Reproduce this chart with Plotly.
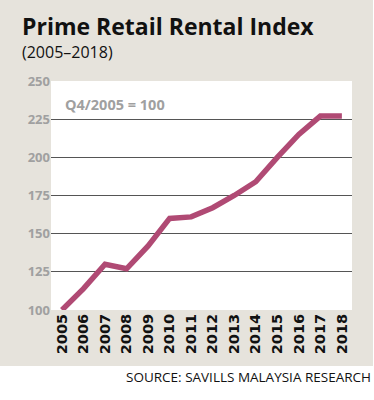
import plotly.graph_objects as go

years = list(range(2005, 2019))
index_values = [100, 114, 130, 127, 142, 160, 161, 167, 175, 184, 200, 215, 227, 227]
y_ticks = [100, 125, 150, 175, 200, 225, 250]

L, R, T, B = 51, 22, 81, 90
W, H = 374, 400
pw, ph = W - L - R, H - T - B

fig = go.Figure()
fig.add_trace(go.Scatter(x=years, y=index_values, mode="lines",
                         line=dict(color="#B04A74", width=5.5), hoverinfo="skip"))

fig.update_layout(
    width=W, height=H,
    margin=dict(l=L, r=R, t=T, b=B),
    paper_bgcolor="#E6E3DC",
    plot_bgcolor="#FFFFFF",
    showlegend=False,
    xaxis=dict(range=[2004.49, 2018.47], tickvals=years, ticktext=[str(y) for y in years],
               tickangle=-90, showgrid=False, zeroline=False, showline=False,
               tickfont=dict(family="DejaVu Sans", size=14.5, color="#111", weight=700),
               ticks="", fixedrange=True),
    yaxis=dict(range=[100, 250], tickvals=y_ticks, showgrid=True, gridcolor="#555555",
               gridwidth=1.3, zeroline=False, showline=False, ticks="",
               tickfont=dict(family="Open Sans", size=13, color="#A0A0A0", weight=700),
               fixedrange=True),
    shapes=[
        dict(type="rect", xref="paper", yref="paper",
             x0=-L / pw - 0.1, x1=(W + 5 - L) / pw, y0=-(H - T - ph + 40) / ph, y1=(310 - 366) / ph,
             fillcolor="#FFFFFF", line=dict(width=0), layer="below"),
        dict(type="rect", xref="paper", yref="paper",
             x0=(373 - L) / pw, x1=(W + 5 - L) / pw, y0=-1, y1=2,
             fillcolor="#FFFFFF", line=dict(width=0), layer="below"),
    ],
    annotations=[
        dict(text="<b>Prime Retail Rental Index</b>", xref="paper", yref="paper",
             x=(20 - L) / pw, y=(310 - 25.5) / ph, xanchor="left", yanchor="middle",
             showarrow=False, font=dict(family="Open Sans", size=23, color="#111")),
        dict(text="(2005–2018)", xref="paper", yref="paper",
             x=(20 - L) / pw, y=(310 - 52) / ph, xanchor="left", yanchor="middle",
             showarrow=False, font=dict(family="Open Sans", size=16, color="#111")),
        dict(text="<b>Q4/2005 = 100</b>", xref="paper", yref="paper",
             x=(63 - L) / pw, y=(310 - 104) / ph, xanchor="left", yanchor="middle",
             showarrow=False, font=dict(family="Open Sans", size=14.5, color="#A0A0A0")),
        dict(text="SOURCE: SAVILLS MALAYSIA RESEARCH", xref="paper", yref="paper",
             x=(373 - L) / pw, y=(310 - 377) / ph, xanchor="right", yanchor="middle",
             showarrow=False, font=dict(family="Open Sans", size=13.5, color="#111")),
    ],
)

fig.write_html("out.html", config={"displayModeBar": False},
               post_script="document.body.style.margin='0';")
